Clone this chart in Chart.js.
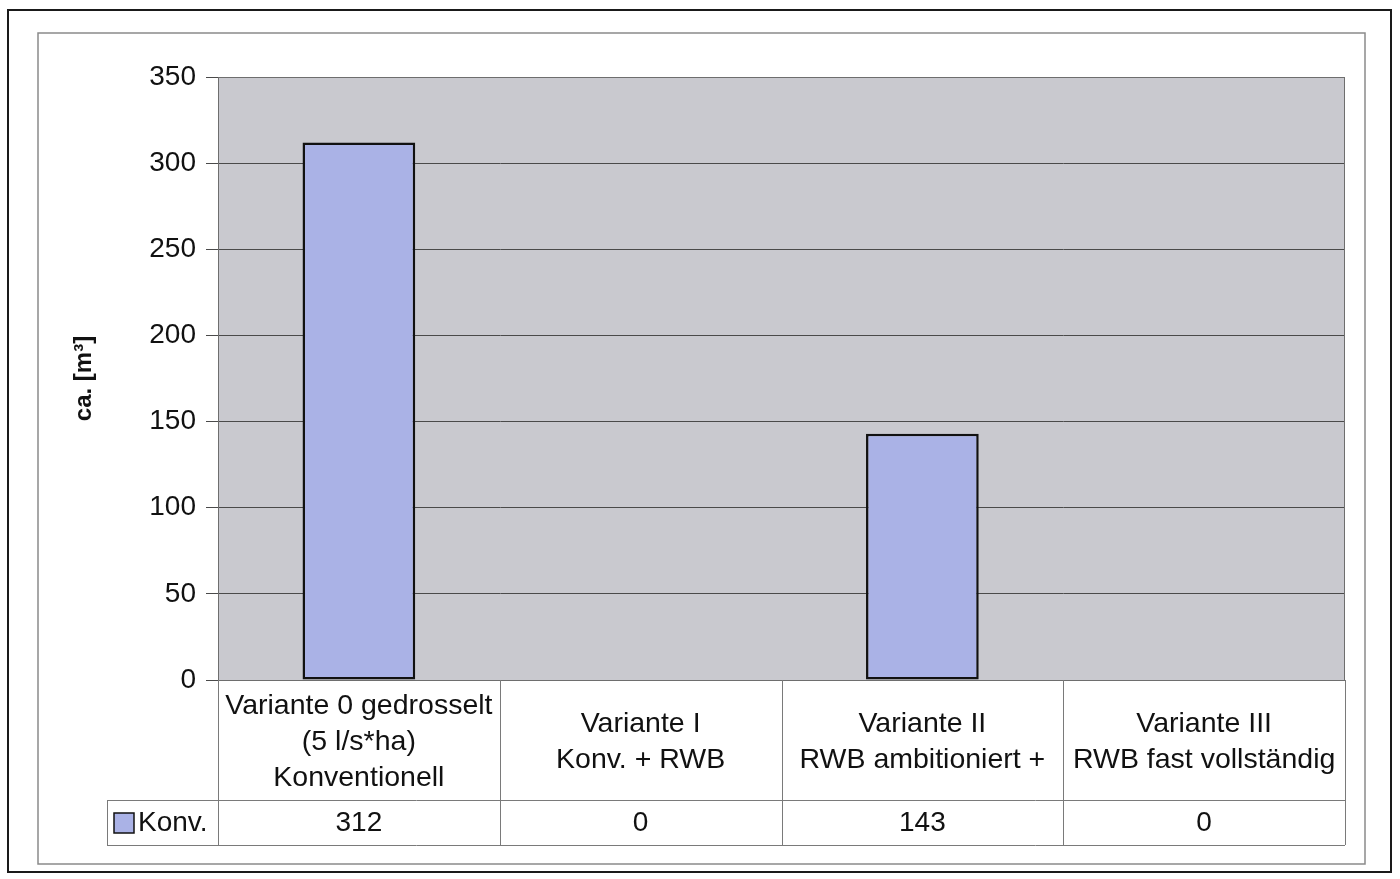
<!DOCTYPE html>
<html>
<head>
<meta charset="utf-8">
<title>Rückhaltevolumen</title>
<script src="https://cdn.jsdelivr.net/npm/chart.js@4.4.1/dist/chart.umd.min.js"></script>
<style>
  html, body { margin: 0; padding: 0; background: #ffffff; }
  #wrap { width: 1400px; height: 879px; position: relative; }
</style>
</head>
<body>
<div id="wrap"><canvas id="c" width="1400" height="879"></canvas></div>
<script>
// Category labels (one array per column, one string per line)
const categories = [
  ['Variante 0 gedrosselt', '(5 l/s*ha)', 'Konventionell'],
  ['Variante I', 'Konv. + RWB'],
  ['Variante II', 'RWB ambitioniert +'],
  ['Variante III', 'RWB fast vollständig']
];
const seriesName = 'Konv.';
const konvValues = [312, 0, 143, 0];
const yMin = 0;
const yMax = 350;
const yStep = 50;
const yTitle = 'ca. [m³]';

const FONT = 'Liberation Sans, Arial, sans-serif';
const BAR_FILL = '#aab2e6';
const PLOT_FILL = '#c9c9cf';
const TABLE_LINE = '#7a7a7a';

// Frames, plot background and the data table underneath the chart
const excelLook = {
  id: 'excelLook',
  beforeDraw(chart) {
    const ctx = chart.ctx;
    const a = chart.chartArea;
    ctx.save();
    ctx.fillStyle = '#ffffff';
    ctx.fillRect(0, 0, chart.width, chart.height);
    // outer frame
    ctx.strokeStyle = '#1a1a1a';
    ctx.lineWidth = 2;
    ctx.strokeRect(8, 10, 1383, 862);
    // inner frame
    ctx.strokeStyle = '#8a8a8a';
    ctx.lineWidth = 1.5;
    ctx.strokeRect(38, 33, 1327, 831);
    // plot area
    ctx.fillStyle = PLOT_FILL;
    ctx.fillRect(a.left, a.top, a.right - a.left, a.bottom - a.top);
    ctx.restore();
  },
  afterDraw(chart) {
    const ctx = chart.ctx;
    const a = chart.chartArea;
    const xs = chart.scales.x;
    const n = categories.length;
    const step = (a.right - a.left) / n;
    const rowTop = a.bottom;
    const rowMid = 800;
    const rowBot = 845;
    const legendLeft = 107;

    ctx.save();
    // plot border
    ctx.strokeStyle = '#6e6e6e';
    ctx.lineWidth = 1;
    ctx.strokeRect(a.left + 0.5, a.top + 0.5, a.right - a.left - 1, a.bottom - a.top);

    // table grid
    ctx.strokeStyle = TABLE_LINE;
    ctx.lineWidth = 1;
    ctx.beginPath();
    for (let i = 0; i <= n; i++) {
      const x = Math.round(a.left + i * step) + 0.5;
      ctx.moveTo(x, rowTop);
      ctx.lineTo(x, rowBot);
    }
    ctx.moveTo(legendLeft + 0.5, rowMid);
    ctx.lineTo(legendLeft + 0.5, rowBot);
    ctx.moveTo(legendLeft, rowMid + 0.5);
    ctx.lineTo(a.right, rowMid + 0.5);
    ctx.moveTo(legendLeft, rowBot + 0.5);
    ctx.lineTo(a.right, rowBot + 0.5);
    ctx.stroke();

    // value row
    ctx.fillStyle = '#111111';
    ctx.font = '28px ' + FONT;
    ctx.textAlign = 'center';
    ctx.textBaseline = 'middle';
    konvValues.forEach((v, i) => {
      ctx.fillText(String(v), xs.getPixelForValue(i), (rowMid + rowBot) / 2 + 1);
    });

    // legend key in the first cell
    ctx.fillStyle = BAR_FILL;
    ctx.fillRect(114, 813, 20, 20);
    ctx.strokeStyle = '#111111';
    ctx.lineWidth = 1.5;
    ctx.strokeRect(114, 813, 20, 20);
    ctx.fillStyle = '#111111';
    ctx.textAlign = 'left';
    ctx.fillText(seriesName, 138, (rowMid + rowBot) / 2 + 1);
    ctx.restore();
  }
};

new Chart(document.getElementById('c'), {
  type: 'bar',
  data: {
    labels: categories,
    datasets: [{
      label: seriesName,
      data: konvValues,
      backgroundColor: BAR_FILL,
      borderColor: '#111111',
      borderWidth: 2.5,
      borderSkipped: false,
      barPercentage: 0.4,
      categoryPercentage: 1.0
    }]
  },
  options: {
    responsive: false,
    animation: false,
    devicePixelRatio: 1,
    layout: { padding: { left: 66, right: 55, top: 77, bottom: 79 } },
    plugins: {
      legend: { display: false },
      tooltip: { enabled: false },
      title: { display: false }
    },
    scales: {
      x: {
        grid: { display: false, drawTicks: false },
        border: { display: true, color: '#333333', width: 1 },
        ticks: {
          color: '#111111',
          font: { family: FONT, size: 28.5, lineHeight: 1.26 },
          padding: 26,
          crossAlign: 'center',
          maxRotation: 0,
          minRotation: 0,
          autoSkip: false
        },
        afterFit(scale) { scale.height = 120; }
      },
      y: {
        min: yMin,
        max: yMax,
        ticks: {
          stepSize: yStep,
          color: '#111111',
          font: { family: FONT, size: 28 },
          padding: 10
        },
        grid: { color: '#4a4a4a', lineWidth: 1, tickLength: 12 },
        border: { display: true, color: '#555555', width: 1 },
        title: {
          display: true,
          text: yTitle,
          color: '#111111',
          font: { family: FONT, size: 24, weight: 'bold' },
          padding: { top: 4, bottom: 4 }
        },
        afterFit(scale) { scale.width = 152; }
      }
    }
  },
  plugins: [excelLook]
});
</script>
</body>
</html>
